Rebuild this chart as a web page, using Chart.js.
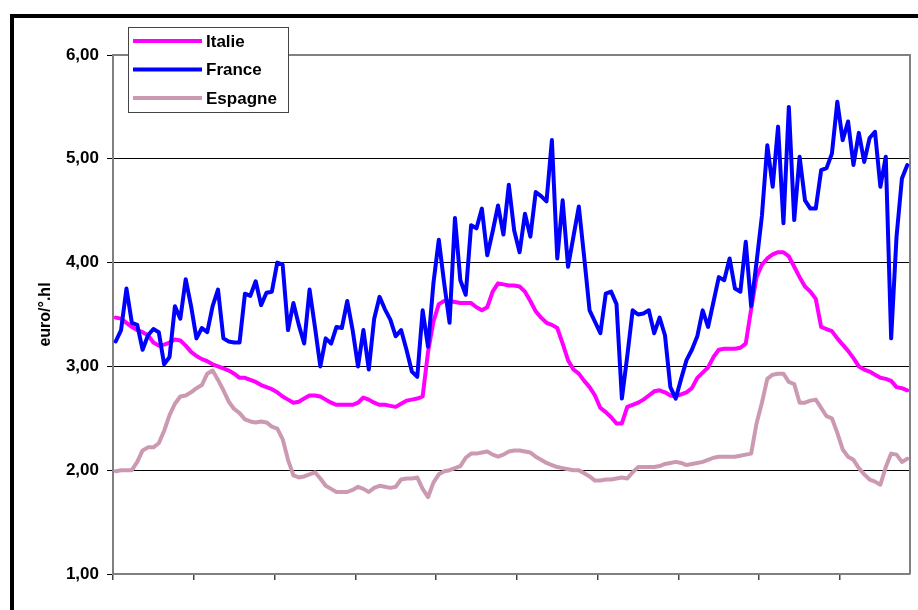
<!DOCTYPE html>
<html>
<head>
<meta charset="utf-8">
<script src="https://cdn.jsdelivr.net/npm/chart.js@4"></script>
<style>
  html, body { margin: 0; padding: 0; background: #fff; overflow: hidden; }
</style>
</head>
<body>
<canvas id="chart" width="918" height="610"></canvas>
<script>
// monthly-ish prices, euro/°.hl, one point per period
const seriesNames = ["Italie", "France", "Espagne"];
const seriesColors = ["#ff00ff", "#0000ff", "rgb(204,153,178)"];

const italie = [3.47,3.46,3.42,3.38,3.35,3.33,3.30,3.23,3.20,3.21,
  3.23,3.26,3.25,3.20,3.14,3.10,3.07,3.05,3.02,3.00,
  2.98,2.96,2.93,2.89,2.89,2.87,2.85,2.82,2.80,2.78,
  2.75,2.71,2.68,2.65,2.66,2.69,2.72,2.72,2.71,2.68,
  2.65,2.63,2.63,2.63,2.63,2.65,2.70,2.68,2.65,2.63,
  2.63,2.62,2.61,2.64,2.67,2.68,2.69,2.71,3.14,3.43,
  3.60,3.63,3.63,3.62,3.61,3.61,3.61,3.57,3.54,3.57,
  3.72,3.80,3.79,3.78,3.78,3.77,3.72,3.63,3.53,3.47,
  3.42,3.40,3.37,3.22,3.06,2.97,2.93,2.86,2.80,2.72,
  2.60,2.56,2.51,2.45,2.45,2.61,2.63,2.65,2.68,2.72,
  2.76,2.77,2.75,2.72,2.71,2.73,2.75,2.79,2.89,2.94,
  2.99,3.09,3.16,3.17,3.17,3.17,3.18,3.22,3.55,3.86,
  3.98,4.04,4.08,4.10,4.10,4.06,3.96,3.86,3.77,3.72,
  3.65,3.38,3.36,3.34,3.27,3.21,3.15,3.08,3.00,2.97,
  2.95,2.92,2.89,2.88,2.86,2.80,2.79,2.77];

const france = [3.24,3.35,3.75,3.42,3.40,3.16,3.30,3.36,3.33,3.02,
  3.09,3.58,3.46,3.84,3.58,3.27,3.37,3.33,3.58,3.74,
  3.27,3.24,3.23,3.23,3.70,3.68,3.82,3.59,3.71,3.72,
  4.00,3.98,3.35,3.61,3.40,3.22,3.74,3.38,3.00,3.27,
  3.22,3.38,3.37,3.63,3.35,3.00,3.35,2.97,3.46,3.67,
  3.55,3.45,3.29,3.35,3.16,2.95,2.90,3.54,3.19,3.80,
  4.22,3.80,3.42,4.43,3.83,3.69,4.36,4.33,4.52,4.07,
  4.30,4.55,4.27,4.75,4.31,4.10,4.47,4.25,4.68,4.64,
  4.59,5.18,4.04,4.60,3.96,4.25,4.54,4.05,3.54,3.43,
  3.32,3.70,3.72,3.60,2.69,3.10,3.54,3.50,3.51,3.54,
  3.32,3.47,3.30,2.80,2.69,2.88,3.06,3.16,3.29,3.54,
  3.38,3.62,3.86,3.83,4.04,3.75,3.72,4.20,3.58,4.00,
  4.45,5.13,4.73,5.31,4.38,5.50,4.41,5.02,4.60,4.52,
  4.52,4.89,4.91,5.05,5.55,5.18,5.36,4.94,5.25,4.97,
  5.20,5.26,4.73,5.02,3.27,4.25,4.81,4.94];

const espagne = [1.99,2.00,2.00,2.00,2.08,2.19,2.22,2.22,2.26,2.38,
  2.53,2.64,2.71,2.72,2.75,2.79,2.82,2.93,2.96,2.87,
  2.77,2.66,2.59,2.55,2.49,2.47,2.46,2.47,2.46,2.42,
  2.40,2.30,2.10,1.95,1.93,1.94,1.96,1.98,1.92,1.85,
  1.82,1.79,1.79,1.79,1.81,1.84,1.82,1.79,1.83,1.85,
  1.84,1.83,1.84,1.91,1.92,1.92,1.93,1.82,1.74,1.88,
  1.96,1.99,2.00,2.02,2.04,2.12,2.16,2.16,2.17,2.18,
  2.15,2.13,2.15,2.18,2.19,2.19,2.18,2.17,2.13,2.10,
  2.07,2.05,2.03,2.02,2.01,2.00,2.00,1.97,1.94,1.90,
  1.90,1.91,1.91,1.92,1.93,1.92,1.98,2.03,2.03,2.03,
  2.03,2.04,2.06,2.07,2.08,2.07,2.05,2.06,2.07,2.08,
  2.10,2.12,2.13,2.13,2.13,2.13,2.14,2.15,2.16,2.45,
  2.65,2.88,2.92,2.93,2.93,2.85,2.83,2.65,2.65,2.67,
  2.68,2.60,2.52,2.50,2.36,2.20,2.13,2.10,2.02,1.96,
  1.91,1.89,1.86,2.03,2.16,2.15,2.08,2.11];

const yTicks = [1, 2, 3, 4, 5, 6];
const xTickEvery = 15; // one tick mark every 15 periods
const yTitle = "euro/°.hl";

const FONT = "'Liberation Sans', Arial, sans-serif";

function toPoints(arr) {
  return arr.map((v, i) => ({ x: i + 0.5, y: v }));
}

// outer frame + plot area border
const framePlugin = {
  id: "frame",
  beforeDraw(chart) {
    const ctx = chart.ctx;
    ctx.save();
    ctx.fillStyle = "#fff";
    ctx.fillRect(0, 0, chart.width, chart.height);
    ctx.strokeStyle = "#000";
    ctx.lineWidth = 4;
    ctx.strokeRect(12, 16, 960, 700);
    ctx.restore();
  },
  beforeDatasetsDraw(chart) {
    const { ctx, chartArea: a } = chart;
    ctx.save();
    ctx.strokeStyle = "#808080";
    ctx.lineWidth = 2;
    ctx.beginPath();
    ctx.moveTo(a.left, a.top);
    ctx.lineTo(a.right, a.top);
    ctx.lineTo(a.right, a.bottom);
    ctx.stroke();
    ctx.restore();
  }
};

// Excel-like legend box inside the plot
const legendBoxPlugin = {
  id: "legendBox",
  afterDatasetsDraw(chart) {
    const ctx = chart.ctx;
    const x = 128, y = 27, w = 160, h = 85;
    ctx.save();
    ctx.fillStyle = "#fff";
    ctx.fillRect(x, y, w, h);
    ctx.strokeStyle = "#444";
    ctx.lineWidth = 1;
    ctx.strokeRect(x + 0.5, y + 0.5, w, h);
    ctx.font = "bold 17px " + FONT;
    ctx.textBaseline = "middle";
    ctx.fillStyle = "#000";
    chart.data.datasets.forEach((ds, i) => {
      const ly = 41 + i * 28.5;
      ctx.strokeStyle = ds.borderColor;
      ctx.lineWidth = 4;
      ctx.beginPath();
      ctx.moveTo(133, ly);
      ctx.lineTo(202, ly);
      ctx.stroke();
      ctx.fillText(ds.label, 206, ly + 1);
    });
    ctx.restore();
  }
};

new Chart(document.getElementById("chart"), {
  type: "line",
  data: {
    datasets: [
      { label: seriesNames[0], data: toPoints(italie), borderColor: seriesColors[0], order: 3 },
      { label: seriesNames[1], data: toPoints(france), borderColor: seriesColors[1], order: 2 },
      { label: seriesNames[2], data: toPoints(espagne), borderColor: seriesColors[2], order: 1 },
    ],
  },
  options: {
    responsive: false,
    animation: false,
    events: [],
    elements: {
      line: { borderWidth: 4, tension: 0, borderJoinStyle: "round", borderCapStyle: "round" },
      point: { radius: 0 },
    },
    layout: { padding: { top: 55, right: 8, left: 0, bottom: 0 } },
    plugins: {
      legend: { display: false },
      tooltip: { enabled: false },
    },
    scales: {
      x: {
        type: "linear",
        min: 0,
        max: italie.length,
        afterBuildTicks(scale) {
          const t = [];
          for (let v = 0; v < italie.length; v += xTickEvery) t.push({ value: v });
          scale.ticks = t;
        },
        afterFit(scale) { scale.height = 36; },
        ticks: { display: false },
        grid: { drawOnChartArea: false, drawTicks: true, tickLength: 6, color: "#444", lineWidth: 1.5 },
        border: { color: "#808080", width: 2 },
      },
      y: {
        min: 1,
        max: 6,
        afterBuildTicks(scale) {
          scale.ticks = yTicks.map(v => ({ value: v }));
        },
        afterFit(scale) { scale.width = 113; },
        ticks: {
          padding: 8,
          color: "#000",
          font: { family: FONT, size: 17, weight: "bold" },
          callback: v => v.toFixed(2).replace(".", ","),
        },
        grid: { color: "#000", lineWidth: 1, tickLength: 6 },
        border: { color: "#808080", width: 2 },
        title: {
          display: true,
          text: yTitle,
          color: "#000",
          font: { family: FONT, size: 16, weight: "bold" },
          padding: { top: 36, bottom: 0 },
        },
      },
    },
  },
  plugins: [framePlugin, legendBoxPlugin],
});
</script>
</body>
</html>
